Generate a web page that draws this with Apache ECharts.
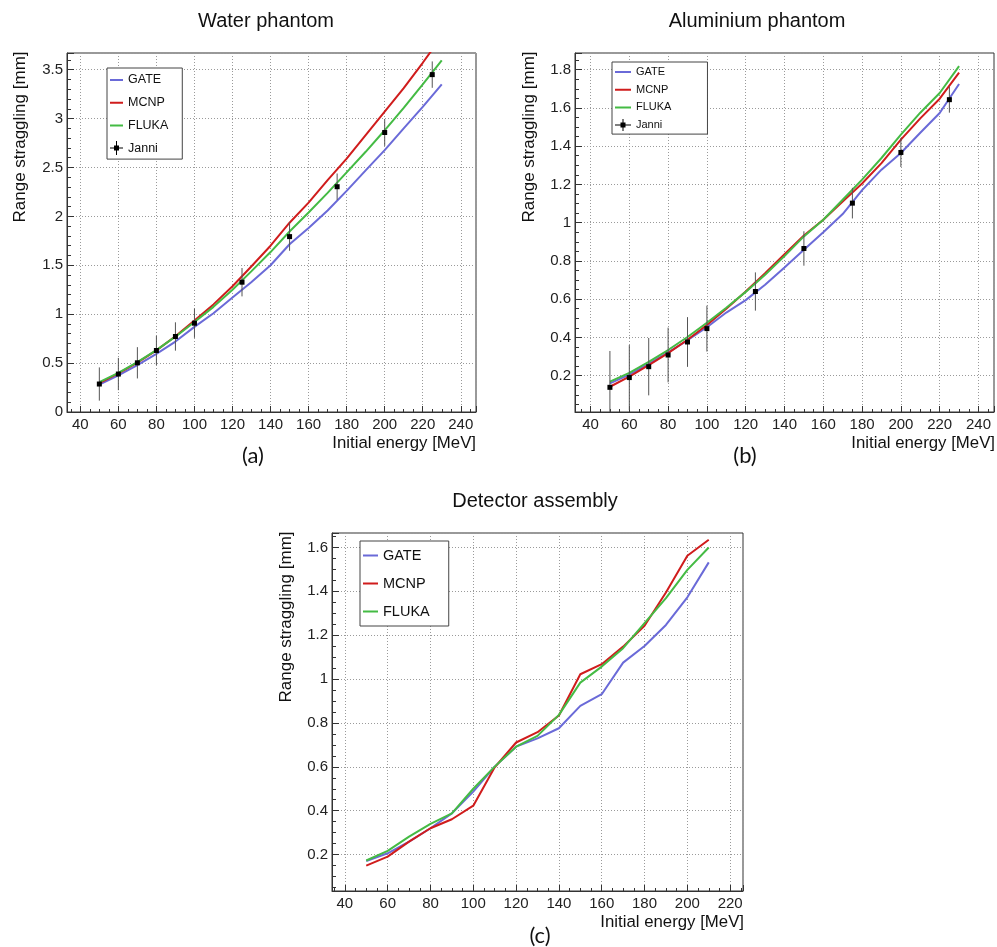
<!DOCTYPE html>
<html>
<head>
<meta charset="utf-8">
<script src="https://cdn.jsdelivr.net/npm/echarts@6/dist/echarts.min.js"></script>
<style>
html,body{margin:0;padding:0;background:#fff;}
#chart{width:997px;height:947px;}
</style>
</head>
<body>
<div id="chart"></div>
<script>
// ---------- DATA ----------
const energyLine = [50,60,70,80,90,100,110,120,130,140,150,160,170,180,190,200,210,220,230];
const gateWater  = [0.280,0.375,0.480,0.595,0.720,0.870,1.010,1.170,1.330,1.500,1.715,1.880,2.060,2.260,2.470,2.677,2.900,3.120,3.350];
const mcnpWater  = [0.296,0.395,0.505,0.630,0.775,0.935,1.100,1.285,1.490,1.700,1.935,2.140,2.370,2.590,2.830,3.070,3.310,3.570,3.840];
const flukaWater = [0.306,0.400,0.510,0.632,0.770,0.920,1.075,1.250,1.440,1.635,1.845,2.040,2.240,2.450,2.660,2.880,3.110,3.350,3.595];

const gateAl  = [0.160,0.205,0.262,0.322,0.385,0.453,0.530,0.595,0.675,0.765,0.858,0.950,1.045,1.170,1.277,1.364,1.470,1.573,1.725];
const mcnpAl  = [0.142,0.195,0.255,0.318,0.388,0.465,0.550,0.640,0.735,0.835,0.933,1.015,1.110,1.205,1.311,1.434,1.545,1.648,1.784];
const flukaAl = [0.169,0.215,0.272,0.334,0.402,0.477,0.555,0.638,0.728,0.825,0.928,1.015,1.120,1.225,1.338,1.460,1.575,1.678,1.818];

const janniEnergy   = [50,60,70,80,90,100,125,150,175,200,225];
const janniWater    = [0.286,0.388,0.503,0.629,0.772,0.908,1.327,1.793,2.303,2.857,3.449];
const janniWaterErr = [0.170,0.165,0.160,0.150,0.145,0.150,0.145,0.145,0.135,0.137,0.135];
const janniAl       = [0.139,0.190,0.247,0.308,0.376,0.446,0.640,0.865,1.102,1.367,1.643];
const janniAlErr    = [0.190,0.170,0.150,0.143,0.130,0.120,0.100,0.090,0.080,0.076,0.068];

const energyDet = [50,60,70,80,90,100,110,120,130,140,150,160,170,180,190,200,210];
const gateDet   = [0.171,0.206,0.259,0.320,0.388,0.487,0.601,0.692,0.730,0.776,0.878,0.931,1.075,1.151,1.247,1.373,1.532];
const mcnpDet   = [0.150,0.191,0.259,0.320,0.361,0.423,0.598,0.711,0.758,0.834,1.022,1.068,1.148,1.243,1.395,1.562,1.635];
const flukaDet  = [0.173,0.217,0.282,0.340,0.388,0.500,0.601,0.692,0.741,0.837,0.984,1.057,1.141,1.255,1.369,1.498,1.600];

const panelTitles = ['Water phantom', 'Aluminium phantom', 'Detector assembly'];
const panelCaptions = ['(a)', '(b)', '(c)'];
const xTitle = 'Initial energy [MeV]';
const yTitle = 'Range straggling [mm]';
const seriesNames = ['GATE', 'MCNP', 'FLUKA', 'Janni'];

// ---------- STYLE ----------
const FONT = '"Liberation Sans", Arial, Helvetica, sans-serif';
const CAPFONT = 'Lato, "Open Sans", sans-serif';
const COLORS = { GATE: '#6a6ad8', MCNP: '#d01c1c', FLUKA: '#44bb44', Janni: '#000000' };

function zip(xs, ys) { return xs.map((x, i) => [x, ys[i]]); }
function zip3(xs, ys, es) { return xs.map((x, i) => [x, ys[i], es[i]]); }

function xAxisCfg(idx, min, max) {
  return {
    type: 'value', gridIndex: idx, min: min, max: max,
    minInterval: 20, maxInterval: 20,
    axisLine: { show: true, onZero: false, lineStyle: { color: '#333', width: 1 } },
    axisTick: { show: true, inside: true, length: 6, lineStyle: { color: '#333' } },
    minorTick: { show: true, splitNumber: 4, length: 3, lineStyle: { color: '#333' } },
    axisLabel: { show: true, margin: 5, fontFamily: FONT, fontSize: 15, color: '#222', showMinLabel: false, showMaxLabel: false },
    splitLine: { show: true, lineStyle: { color: '#9a9a9a', type: [1, 2], width: 1 } }
  };
}
function yAxisCfg(idx, min, max, step, minorSplit, showMin) {
  return {
    type: 'value', gridIndex: idx, min: min, max: max,
    minInterval: step, maxInterval: step,
    axisLine: { show: true, onZero: false, lineStyle: { color: '#333', width: 1 } },
    axisTick: { show: true, inside: true, length: 7, lineStyle: { color: '#333' } },
    minorTick: { show: true, splitNumber: minorSplit, length: 4, lineStyle: { color: '#333' } },
    axisLabel: { show: true, margin: 4, fontFamily: FONT, fontSize: 15, color: '#222', showMinLabel: showMin, showMaxLabel: false },
    splitLine: { show: true, lineStyle: { color: '#9a9a9a', type: [1, 2], width: 1 } }
  };
}
function lineSeries(name, idx, data) {
  return {
    name: name, type: 'line', xAxisIndex: idx, yAxisIndex: idx,
    data: data, symbol: 'none', smooth: false, clip: true,
    lineStyle: { color: COLORS[name], width: 2 },
    itemStyle: { color: COLORS[name] },
    emphasis: { disabled: true }, z: 3
  };
}
function janniSeries(idx, data) {
  return {
    name: 'Janni', type: 'custom', xAxisIndex: idx, yAxisIndex: idx,
    data: data, itemStyle: { color: '#000' }, z: 5,
    renderItem: function (params, api) {
      const x = api.value(0), y = api.value(1), e = api.value(2);
      const c = api.coord([x, y]);
      const t = api.coord([x, y + e]);
      const b = api.coord([x, y - e]);
      const cs = params.coordSys;
      const yTop = Math.max(t[1], cs.y);
      const yBot = Math.min(b[1], cs.y + cs.height);
      return {
        type: 'group',
        children: [
          { type: 'line', shape: { x1: c[0], y1: yTop, x2: c[0], y2: yBot }, style: { stroke: '#555', lineWidth: 1 } },
          { type: 'rect', shape: { x: c[0] - 2.5, y: c[1] - 2.5, width: 5, height: 5 }, style: { fill: '#000' } }
        ]
      };
    }
  };
}
// legend icon shapes (box-filling so they are not stretched)
function janniIcon(w, h) {
  const cy = h / 2, cx = w / 2;
  return 'path://M0,' + (cy - 0.5) + 'h' + w + 'v1h-' + w + 'z' +
         'M' + (cx - 0.5) + ',0h1v' + h + 'h-1z' +
         'M' + (cx - 2.5) + ',' + (cy - 2.5) + 'h5v5h-5z';
}
function lineIcon(w, h) {
  const lw = 2;
  return 'path://M0,0h0.01v0.01h-0.01z' +
         'M' + (w - 0.01) + ',' + (h - 0.01) + 'h0.01v0.01h-0.01z' +
         'M0,' + (h / 2 - lw / 2) + 'h' + w + 'v' + lw + 'h-' + w + 'z';
}
function legendCfg(left, top, iw, ih, gap, fs, pad, withJanni) {
  const data = seriesNames.slice(0, 3).map(n => ({ name: n, icon: lineIcon(iw, ih) }));
  if (withJanni) data.push({ name: 'Janni', icon: janniIcon(iw, ih) });
  return {
    show: true, orient: 'vertical', left: left, top: top,
    data: data, itemWidth: iw, itemHeight: ih, itemGap: gap,
    padding: pad, borderColor: '#444', borderWidth: 1, borderRadius: 0,
    backgroundColor: '#fff', selectedMode: false, symbolKeepAspect: false,
    textStyle: { fontFamily: FONT, fontSize: fs, color: '#111' }
  };
}
function txt(text, x, y, size, opts) {
  opts = opts || {};
  return {
    type: 'text', x: x, y: y, rotation: opts.rot || 0, z: 10, silent: true,
    style: {
      text: text, font: size + 'px ' + (opts.family || FONT), fill: '#111',
      textAlign: opts.align || 'center', textVerticalAlign: 'middle',
      align: opts.align || 'center', verticalAlign: 'middle'
    }
  };
}

const option = {
  backgroundColor: '#fff',
  animation: false,
  grid: [
    { left: 67, top: 53, width: 409, height: 359, show: true, borderColor: '#333', borderWidth: 1, containLabel: false, outerBoundsMode: 'none' },
    { left: 575, top: 53, width: 419, height: 359, show: true, borderColor: '#333', borderWidth: 1, containLabel: false, outerBoundsMode: 'none' },
    { left: 332, top: 533, width: 411, height: 358, show: true, borderColor: '#333', borderWidth: 1, containLabel: false, outerBoundsMode: 'none' }
  ],
  xAxis: [
    xAxisCfg(0, 33, 248),
    xAxisCfg(1, 32, 248),
    xAxisCfg(2, 34, 226)
  ],
  yAxis: [
    yAxisCfg(0, 0, 3.67, 0.5, 5, true),
    yAxisCfg(1, 0.01, 1.887, 0.2, 4, false),
    yAxisCfg(2, 0.034, 1.666, 0.2, 4, false)
  ],
  legend: [
    legendCfg(107, 68, 13, 14, 8.7, 12.5, [5, 14, 4, 3], true),
    legendCfg(612, 62, 16, 12, 5.7, 11, [4, 36, 3, 3], true),
    legendCfg(360, 541, 15, 14, 13, 14.5, [7, 19, 7, 3], false)
  ],
  series: [
    lineSeries('GATE', 0, zip(energyLine, gateWater)),
    lineSeries('MCNP', 0, zip(energyLine, mcnpWater)),
    lineSeries('FLUKA', 0, zip(energyLine, flukaWater)),
    janniSeries(0, zip3(janniEnergy, janniWater, janniWaterErr)),
    lineSeries('GATE', 1, zip(energyLine, gateAl)),
    lineSeries('MCNP', 1, zip(energyLine, mcnpAl)),
    lineSeries('FLUKA', 1, zip(energyLine, flukaAl)),
    janniSeries(1, zip3(janniEnergy, janniAl, janniAlErr)),
    lineSeries('GATE', 2, zip(energyDet, gateDet)),
    lineSeries('MCNP', 2, zip(energyDet, mcnpDet)),
    lineSeries('FLUKA', 2, zip(energyDet, flukaDet))
  ],
  graphic: [
    txt(panelTitles[0], 266, 21, 20),
    txt(panelTitles[1], 757, 21, 20),
    txt(panelTitles[2], 535, 501, 20),
    txt(panelCaptions[0], 253, 456, 22, { family: CAPFONT }),
    txt(panelCaptions[1], 745, 456, 22, { family: CAPFONT }),
    txt(panelCaptions[2], 540, 936, 22, { family: CAPFONT }),
    txt(xTitle, 476, 443, 16.8, { align: 'right' }),
    txt(xTitle, 995, 443, 16.8, { align: 'right' }),
    txt(xTitle, 744, 922, 16.8, { align: 'right' }),
    txt(yTitle, 20, 137, 17, { rot: Math.PI / 2 }),
    txt(yTitle, 529, 137, 17, { rot: Math.PI / 2 }),
    txt(yTitle, 286, 617, 17, { rot: Math.PI / 2 })
  ]
};

const chart = echarts.init(document.getElementById('chart'), null, { renderer: 'canvas', width: 997, height: 947 });
chart.setOption(option);
</script>
</body>
</html>
